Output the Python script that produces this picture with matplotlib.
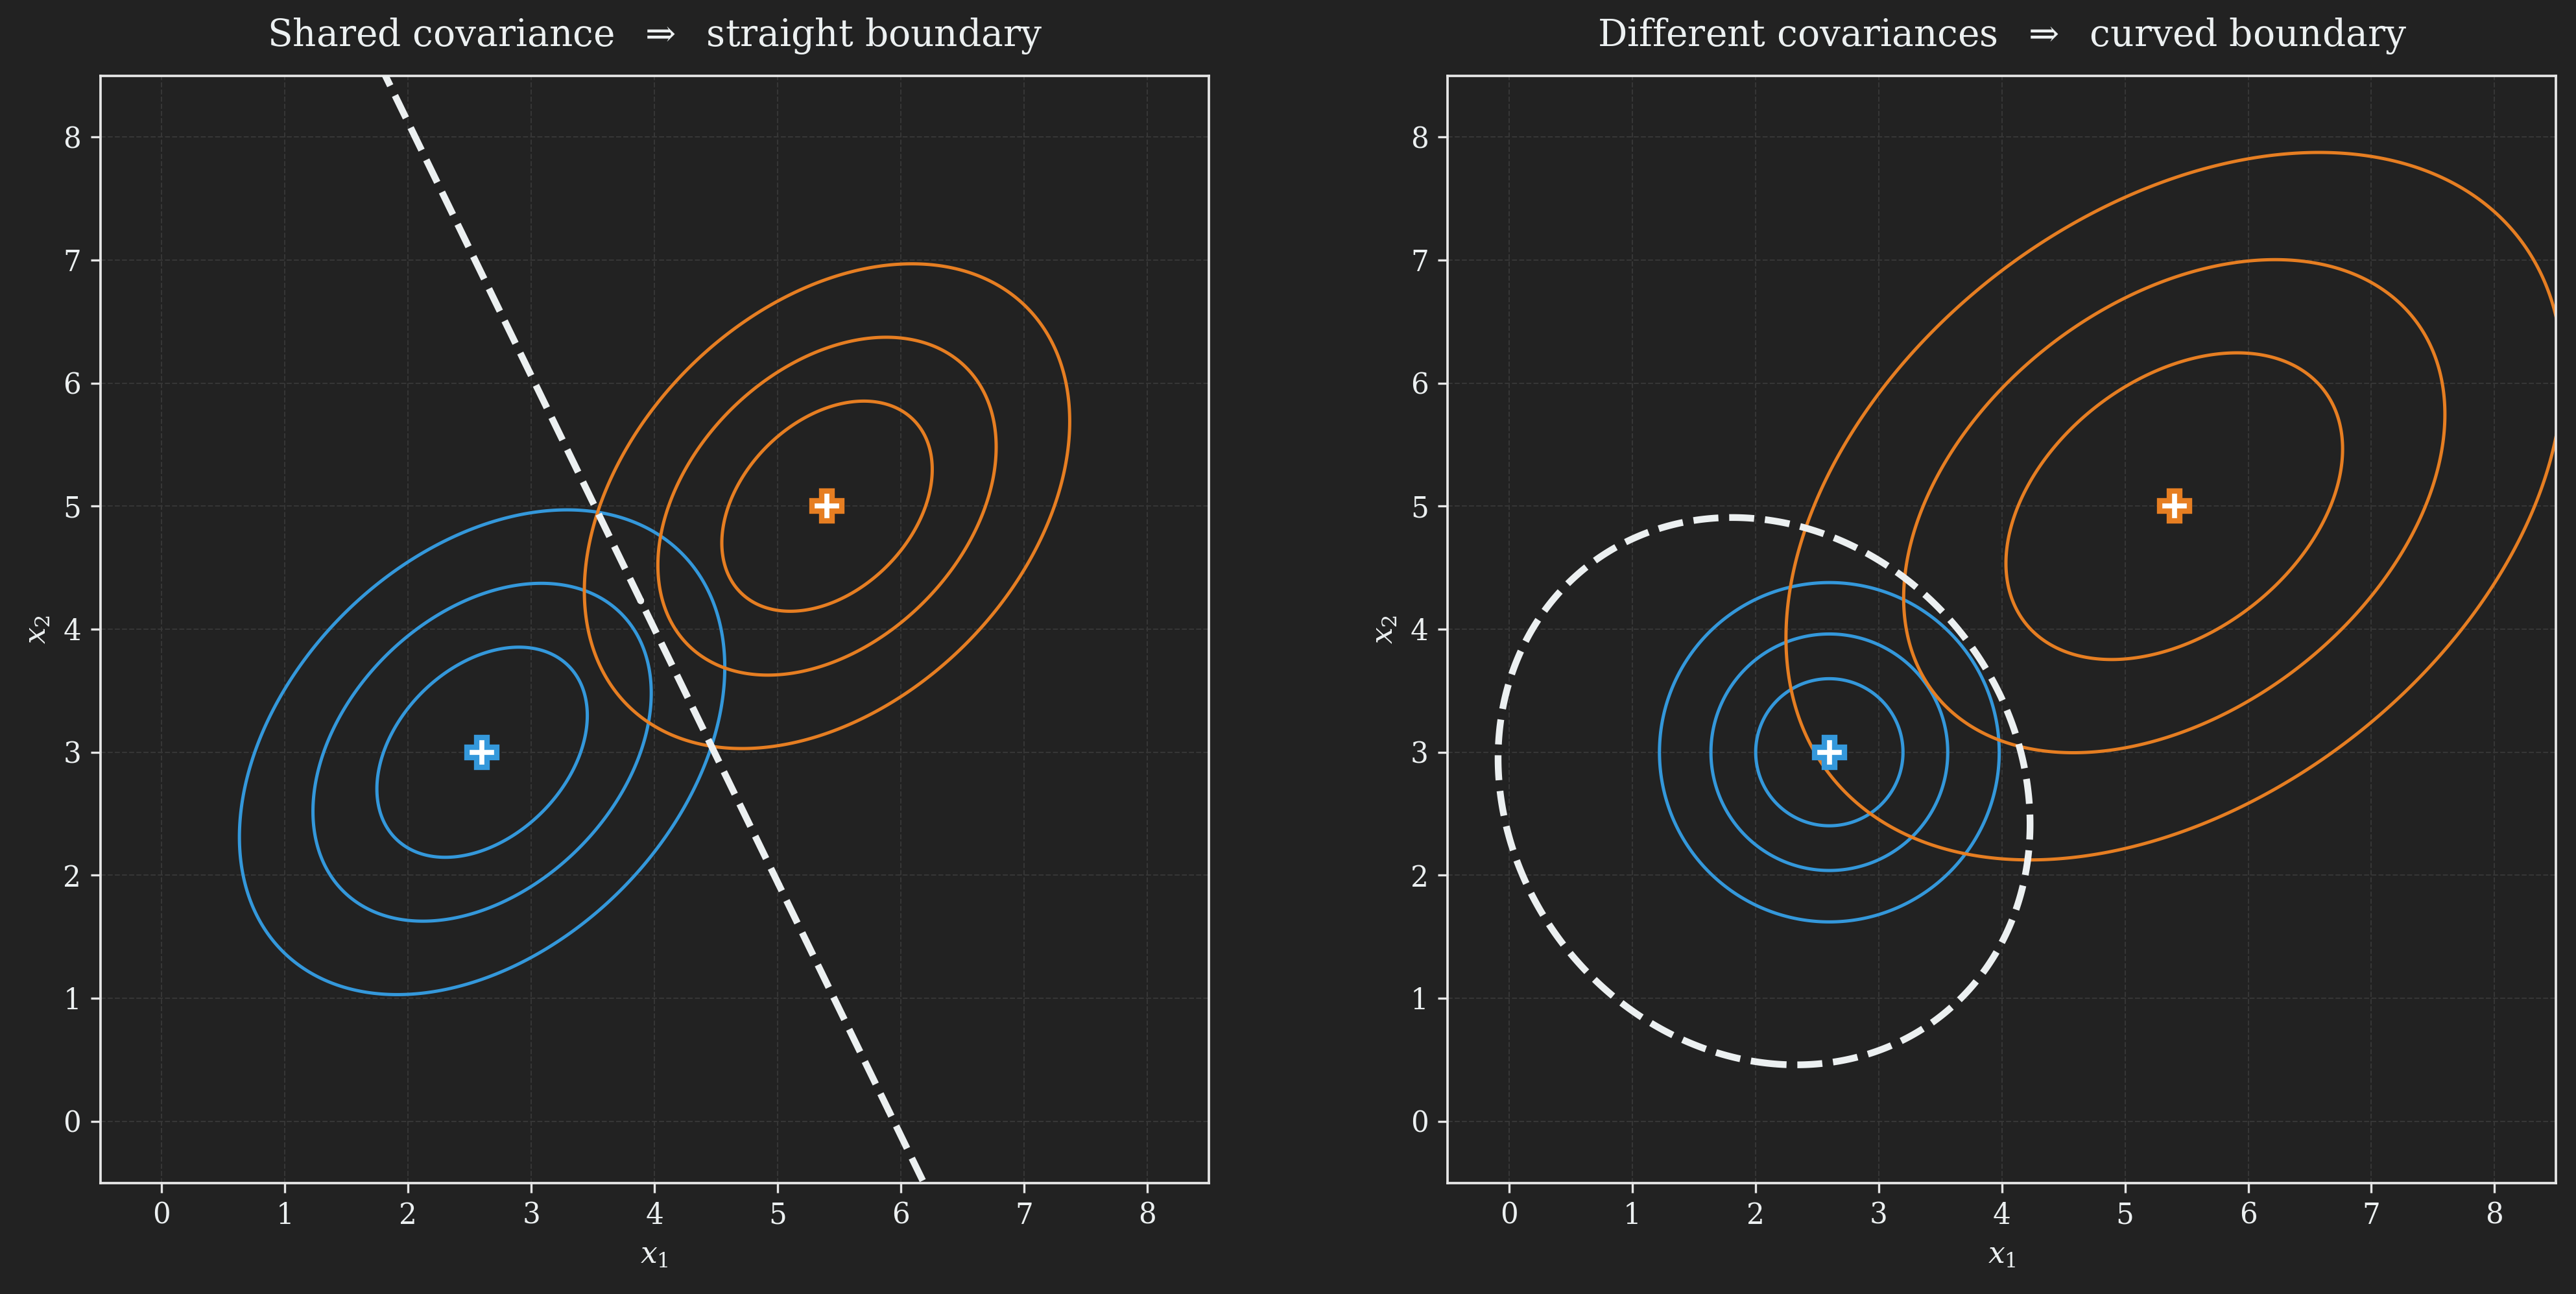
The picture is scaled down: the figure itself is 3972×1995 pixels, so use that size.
import numpy as np
import matplotlib
matplotlib.use("Agg")
import matplotlib.pyplot as plt

# class means (same in both panels)
mean_blue = [2.6, 3.0]
mean_orange = [5.4, 5.0]

# covariances: left panel shares one, right panel has one per class
cov_shared = [[1.0, 0.35], [0.35, 1.0]]
cov_blue = [[0.49, 0.0], [0.0, 0.49]]
cov_orange = [[2.56, 0.87], [0.87, 2.13]]

# mahalanobis radii of the drawn density contours
radii = [0.854, 1.373, 1.97]

titles = ["Shared covariance  $\\Rightarrow$  straight boundary",
          "Different covariances  $\\Rightarrow$  curved boundary"]
ticks = list(range(0, 9))

BG = "#222222"
FG = "#ecf0f1"
BLUE = "#3498db"
ORANGE = "#e67e22"

plt.rcParams.update({
    "font.family": "serif",
    "font.serif": ["DejaVu Serif"],
    "mathtext.fontset": "dejavuserif",
    "axes.edgecolor": "#e6e6e6",
    "axes.linewidth": 0.9,
    "xtick.color": "#e6e6e6",
    "ytick.color": "#e6e6e6",
    "xtick.labelcolor": FG,
    "ytick.labelcolor": FG,
    "xtick.major.size": 3.5,
    "ytick.major.size": 3.5,
    "xtick.labelsize": 10.5,
    "ytick.labelsize": 10.5,
})


def mahal2(X, Y, mu, cov):
    inv = np.linalg.inv(np.array(cov))
    dx = X - mu[0]
    dy = Y - mu[1]
    return inv[0, 0] * dx * dx + 2 * inv[0, 1] * dx * dy + inv[1, 1] * dy * dy


def loglik(X, Y, mu, cov):
    return -0.5 * mahal2(X, Y, mu, cov) - 0.5 * np.log(np.linalg.det(np.array(cov)))


xs = np.linspace(-0.6, 8.6, 700)
X, Y = np.meshgrid(xs, xs)

fig = plt.figure(figsize=(13.24, 6.65), dpi=300, facecolor=BG)
ax1 = fig.add_axes([0.0389, 0.0859, 0.4304, 0.8557])
ax2 = fig.add_axes([0.5619, 0.0859, 0.4304, 0.8557])

panels = [
    (ax1, cov_shared, cov_shared),
    (ax2, cov_blue, cov_orange),
]

for ax, title, (_, cb, co) in zip([ax1, ax2], titles, panels):
    ax.set_facecolor(BG)
    ax.grid(True, color="#363636", linestyle="--", linewidth=0.5)
    ax.set_axisbelow(True)

    for mu, cov, col in [(mean_blue, cb, BLUE), (mean_orange, co, ORANGE)]:
        d = np.sqrt(mahal2(X, Y, mu, cov))
        ax.contour(X, Y, d, levels=radii, colors=col, linewidths=1.2, zorder=2)

    # bayes decision boundary, equal priors
    g = loglik(X, Y, mean_orange, co) - loglik(X, Y, mean_blue, cb)
    ax.contour(X, Y, g, levels=[0], colors=FG, linewidths=2.5,
               linestyles="--", zorder=3)

    for mu, col in [(mean_blue, BLUE), (mean_orange, ORANGE)]:
        ax.plot(mu[0], mu[1], marker="P", markersize=11, markerfacecolor="white",
                markeredgecolor=col, markeredgewidth=2, linestyle="none", zorder=5)

    ax.set_xlim(-0.5, 8.5)
    ax.set_ylim(-0.5, 8.5)
    ax.set_xticks(ticks)
    ax.set_yticks(ticks)
    ax.set_xlabel("$x_1$", color=FG, fontsize=11)
    ax.set_ylabel("$x_2$", color=FG, fontsize=11)
    ax.set_title(title, color=FG, fontsize=13.6, pad=11)

fig.savefig("out.png", dpi=300, facecolor=BG)
